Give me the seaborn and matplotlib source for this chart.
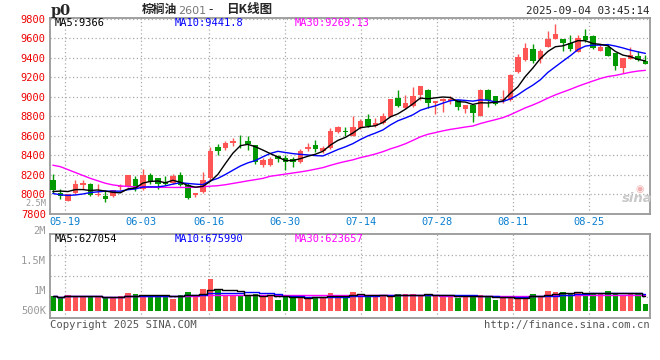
import numpy as np
import pandas as pd
import matplotlib
matplotlib.use("Agg")
import matplotlib.pyplot as plt
import seaborn as sns

# ---------------- data ----------------
opens = [8147, 8017, 7935, 8017, 8099, 8106, 7990, 7983, 7983, 8072,
         8085, 8157, 8058, 8198, 8164, 8130, 8120, 8198, 8096, 7993,
         8027, 8164, 8482, 8472, 8523, 8540, 8547, 8506, 8301, 8301,
         8397, 8369, 8362, 8335, 8465, 8506, 8444, 8472, 8636, 8653,
         8602, 8677, 8773, 8704, 8728, 8797, 8985, 8889, 8904, 9024,
         9068, 8938, 8956, 8962, 8966, 8880, 8921, 8805, 9068, 9007,
         8966, 8966, 9256, 9376, 9486, 9390, 9516, 9595, 9588, 9554,
         9458, 9619, 9619, 9468, 9516, 9448, 9297, 9390, 9417, 9366]
highs = [8209, 8055, 8010, 8147, 8147, 8120, 8106, 8044, 8051, 8106,
         8198, 8191, 8257, 8215, 8164, 8188, 8209, 8233, 8113, 8017,
         8233, 8482, 8516, 8544, 8575, 8609, 8598, 8506, 8369, 8386,
         8403, 8403, 8379, 8465, 8523, 8557, 8496, 8677, 8701, 8687,
         8807, 8769, 8824, 8786, 8831, 8978, 9070, 9019, 9103, 9109,
         9079, 8956, 8990, 9007, 8966, 8921, 8921, 9079, 9085, 9007,
         9068, 9239, 9438, 9547, 9544, 9492, 9680, 9742, 9588, 9636,
         9629, 9698, 9636, 9544, 9544, 9448, 9397, 9509, 9475, 9424]
lows = [8017, 7949, 7930, 8010, 8055, 7983, 7983, 7925, 7976, 8044,
        8072, 8037, 8044, 8106, 8058, 8096, 8106, 8085, 7952, 7976,
        8017, 8147, 8403, 8455, 8499, 8472, 8455, 8308, 8284, 8291,
        8328, 8250, 8277, 8325, 8448, 8438, 8420, 8465, 8626, 8602,
        8602, 8667, 8694, 8694, 8721, 8790, 8899, 8872, 8897, 8966,
        8887, 8822, 8846, 8932, 8863, 8836, 8743, 8805, 8897, 8914,
        8942, 8956, 9249, 9369, 9349, 9345, 9509, 9595, 9465, 9475,
        9458, 9561, 9492, 9468, 9417, 9277, 9243, 9383, 9366, 9332]
closes = [8044, 7983, 8005, 8106, 8113, 7997, 8010, 7949, 8044, 8085,
          8198, 8058, 8198, 8130, 8106, 8106, 8188, 8096, 7966, 8017,
          8147, 8448, 8448, 8523, 8547, 8533, 8516, 8328, 8352, 8363,
          8363, 8328, 8335, 8444, 8489, 8465, 8479, 8650, 8687, 8643,
          8687, 8752, 8704, 8735, 8807, 8978, 8906, 8940, 9007, 9109,
          8938, 8956, 8983, 8983, 8897, 8914, 8836, 9068, 8973, 8932,
          8983, 9222, 9404, 9503, 9366, 9465, 9588, 9646, 9550, 9492,
          9602, 9585, 9503, 9509, 9417, 9314, 9397, 9424, 9373, 9332]
volumes = [624000, 541000, 653000, 624000, 553000, 612000, 553000, 553000, 512000, 612000,
           749000, 695000, 653000, 653000, 612000, 653000, 487000, 653000, 778000, 612000,
           903000, 1319000, 861000, 653000, 612000, 612000, 612000, 695000, 612000, 653000,
           445000, 553000, 612000, 553000, 553000, 553000, 553000, 749000, 612000, 653000,
           778000, 612000, 612000, 612000, 612000, 653000, 695000, 695000, 707000, 612000,
           695000, 653000, 612000, 612000, 512000, 612000, 624000, 653000, 612000, 445000,
           512000, 582000, 553000, 612000, 707000, 624000, 820000, 790000, 778000, 736000,
           736000, 720000, 695000, 695000, 820000, 736000, 666000, 707000, 707000, 279000]
# moving-average values before a full window exists
ma5_head = [8030, 8035, 8030, 8050]
ma10_head = [8010, 7997, 7990, 7995, 8005, 8020, 8027, 8034, 8035]
ma30_head = [8300, 8285, 8255, 8225, 8195, 8165, 8140, 8115, 8098, 8088,
             8082, 8078, 8075, 8074, 8073, 8073, 8072, 8072, 8072, 8074,
             8080, 8085, 8090, 8100, 8113, 8126, 8140, 8152, 8165]
date_labels = ["05-19", "06-03", "06-16", "06-30", "07-14", "07-28", "08-11", "08-25"]
date_index = [2, 12, 21, 31, 41, 51, 61, 71]
price_ticks = [7800, 8000, 8200, 8400, 8600, 8800, 9000, 9200, 9400, 9600, 9800]
vol_tick_labels = ["2M", "1.5M", "1M", "500K"]

# ---------------- style ----------------
sns.set_theme(style="white")
plt.rcParams["font.family"] = ["DejaVu Sans Mono", "Noto Sans CJK SC"]

RED = "#ff5555"
GREEN = "#009900"
GRID = "#aaaaaa"
BORDER = "#999999"
W, H = 660, 360

def fx(px):
    return px / W

def fy(py):
    return 1 - py / H

fig = plt.figure(figsize=(6.6, 3.6), dpi=100)
fig.patch.set_facecolor("white")

ax = fig.add_axes([fx(50), fy(214), 600 / W, (214 - 18.3) / H])
axv = fig.add_axes([fx(50), fy(317.7), 600 / W, (317.7 - 234) / H])

o = np.array(opens, float)
h = np.array(highs, float)
l = np.array(lows, float)
c = np.array(closes, float)
v = np.array(volumes, float)
n = len(c)
idx = np.arange(n)
cols = np.where(c >= o, RED, GREEN)

df = pd.DataFrame({"i": idx, "close": c, "vol": v})
ma5 = df["close"].rolling(5).mean().to_numpy()
ma10 = df["close"].rolling(10).mean().to_numpy()
ma30 = df["close"].rolling(30).mean().to_numpy()
ma5[:len(ma5_head)] = ma5_head
ma10[:len(ma10_head)] = ma10_head
ma30[:len(ma30_head)] = ma30_head
df["ma5"], df["ma10"], df["ma30"] = ma5, ma10, ma30
df["vma5"] = df["vol"].rolling(5, min_periods=1).mean()
df["vma10"] = df["vol"].rolling(10, min_periods=1).mean()
df["vma30"] = df["vol"].rolling(30, min_periods=1).mean()

# ---------------- price panel ----------------
ax.vlines(idx, l, h, colors=cols, lw=1, zorder=2)
ax.bar(idx, np.maximum(np.abs(c - o), 8), bottom=np.minimum(o, c), width=0.76,
       color=cols, linewidth=0, zorder=3)
sns.lineplot(data=df, x="i", y="ma30", ax=ax, color="#ff00ff", lw=1.0, zorder=4)
sns.lineplot(data=df, x="i", y="ma10", ax=ax, color="#0000ff", lw=1.0, zorder=4)
sns.lineplot(data=df, x="i", y="ma5", ax=ax, color="black", lw=1.0, zorder=5)

tick_pos = [d * 1.0128 - 0.4 for d in date_index]
ax.set_xlim(-0.38, 79.62)
ax.set_ylim(7800, 9805)
ax.set_yticks(price_ticks)
ax.set_yticklabels([str(t) for t in price_ticks], color="#ee0000", fontsize=7.5)
ax.set_xticks(tick_pos)
ax.set_xticklabels(date_labels, color="#0a7fd0", fontsize=7.5)
ax.tick_params(length=0, pad=3)
ax.tick_params(axis="x", pad=2.5)
ax.grid(True, color=GRID, ls=(0, (1, 2)), lw=0.9)
ax.set_xlabel("")
ax.set_ylabel("")
for s in ax.spines.values():
    s.set_color(BORDER)
    s.set_linewidth(1.3)

# ---------------- volume panel ----------------
axv.bar(idx, v, width=0.76, color=cols, linewidth=0, zorder=2)
sns.lineplot(data=df, x="i", y="vma30", ax=axv, color="#ff00ff", lw=1.0, zorder=3,
             drawstyle="steps-mid")
sns.lineplot(data=df, x="i", y="vma10", ax=axv, color="#0000ff", lw=1.0, zorder=3,
             drawstyle="steps-mid")
sns.lineplot(data=df, x="i", y="vma5", ax=axv, color="black", lw=1.0, zorder=4,
             drawstyle="steps-mid")
vlo, vhi = -291200, 3190720
axv.set_ylim(vlo, vhi)
axv.set_xlim(-0.38, 79.62)
axv.set_yticks([vlo + (vhi - vlo) * f for f in (0.25, 0.5, 0.75)])
axv.set_yticklabels([])
axv.set_xticks(tick_pos)
axv.set_xticklabels([])
axv.tick_params(length=0)
axv.grid(True, color=GRID, ls=(0, (1, 2)), lw=0.9)
axv.set_xlabel("")
axv.set_ylabel("")
for s in axv.spines.values():
    s.set_color(BORDER)
    s.set_linewidth(1.3)

# volume axis labels (Sina places them at fixed spots)
for lab, py in zip(vol_tick_labels, [230.7, 260.7, 290.7, 310.7]):
    fig.text(fx(46), fy(py), lab, ha="right", va="center", color="#999999", fontsize=7.5)
fig.text(fx(46), fy(203.8), "2.5M", ha="right", va="center", color="#999999", fontsize=6.2)

# ---------------- texts ----------------
mono = "DejaVu Sans Mono"
cjk = ["Noto Sans CJK SC", "DejaVu Sans"]
fig.text(fx(51), fy(10.5), "p0", ha="left", va="center", fontsize=10.5,
         fontweight="bold", family="DejaVu Serif")
fig.text(fx(141.5), fy(10), "棕榈油", ha="left", va="center", fontsize=8.5,
         fontweight="bold", family=cjk)
fig.text(fx(178), fy(10.5), "2601", ha="left", va="center", fontsize=8,
         color="#777777", family="DejaVu Sans")
fig.text(fx(210.5), fy(10), "-", ha="center", va="center", fontsize=9, family=cjk)
fig.text(fx(226.5), fy(10), "日K线图", ha="left", va="center", fontsize=9,
         fontweight="bold", family=cjk)
fig.text(fx(650), fy(11.5), "2025-09-04 03:45:14", ha="right", va="center",
         fontsize=7.8, family=mono)

fig.text(fx(55), fy(23.5), "MA5:9366", ha="left", va="center", fontsize=7.5, color="black")
fig.text(fx(175), fy(23.5), "MA10:9441.8", ha="left", va="center", fontsize=7.5, color="#0000ff")
fig.text(fx(295), fy(23.5), "MA30:9269.13", ha="left", va="center", fontsize=7.5, color="#ff00ff")

fig.text(fx(55), fy(238.5), "MA5:627054", ha="left", va="center", fontsize=7.5, color="black")
fig.text(fx(175), fy(238.5), "MA10:675990", ha="left", va="center", fontsize=7.5, color="#0000ff")
fig.text(fx(295), fy(238.5), "MA30:623657", ha="left", va="center", fontsize=7.5, color="#ff00ff")

fig.text(fx(50), fy(324.5), "Copyright 2025 SINA.COM", ha="left", va="center",
         fontsize=7.6, color="#555555")
fig.text(fx(650), fy(324.5), "http://finance.sina.com.cn", ha="right", va="center",
         fontsize=7.6, color="#555555")

# sina watermark
fig.text(fx(637), fy(199), "sina", ha="center", va="center", fontsize=9.5,
         fontweight="bold", style="italic", color="#c8c8c8", family="DejaVu Sans")
fig.text(fx(640), fy(189), "◉", ha="center", va="center", fontsize=7,
         color="#f0b0b0", family="DejaVu Sans")

fig.savefig("out.png", dpi=100, facecolor="white")
